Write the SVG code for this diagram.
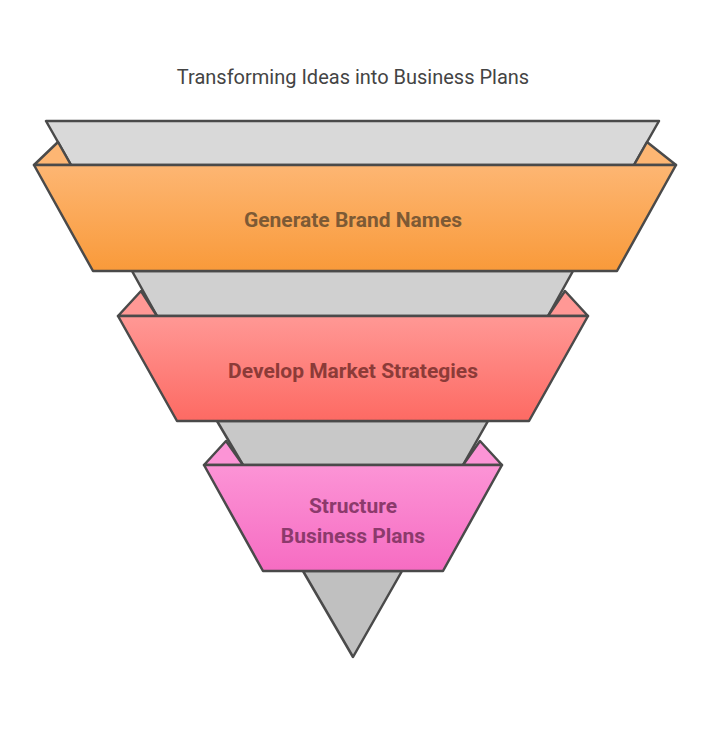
<svg xmlns="http://www.w3.org/2000/svg" width="709" height="738" viewBox="0 0 709 738">
<style>
.s{stroke:#4a4a4a;stroke-width:2.5;stroke-linejoin:round}
.t{font-family:Roboto,"Liberation Sans",sans-serif;font-weight:bold;font-size:21px;text-anchor:middle}
</style>
<defs>
<linearGradient id="go" x1="0" y1="0" x2="0" y2="1"><stop offset="0" stop-color="#fdb673"/><stop offset="1" stop-color="#f99a3a"/></linearGradient>
<linearGradient id="gr" x1="0" y1="0" x2="0" y2="1"><stop offset="0" stop-color="#ff9895"/><stop offset="1" stop-color="#fd6a63"/></linearGradient>
<linearGradient id="gp" x1="0" y1="0" x2="0" y2="1"><stop offset="0" stop-color="#fc94d6"/><stop offset="1" stop-color="#f66cc2"/></linearGradient>
</defs>
<rect width="709" height="738" fill="#fff"/>
<text x="353" y="84" font-family="Roboto,'Liberation Sans',sans-serif" font-size="20" fill="#444" text-anchor="middle">Transforming Ideas into Business Plans</text>
<g id="funnel">
<polygon class="s" fill="#d9d9d9" points="46,121 659,121 634,165 71,165"/>
<polygon class="s" fill="#d0d0d0" points="132,271 573,271 548,316 157,316"/>
<polygon class="s" fill="#c8c8c8" points="217,421 488,421 463,465 243,465"/>
<polygon class="s" fill="#c0c0c0" points="303,571 402,571 353,657"/>
</g>
<g id="band1">
<polygon class="s" fill="#fdb673" points="34,165 58,142 71,165"/>
<polygon class="s" fill="#fdb673" points="676,165 647,142 634,165"/>
<polygon class="s" fill="url(#go)" points="34,165 676,165 617,271 93,271"/>
<text class="t" x="353" y="227" fill="#7d5a35">Generate Brand Names</text>
</g>
<g id="band2">
<polygon class="s" fill="#ff9895" points="118,316 141,291 157,316"/>
<polygon class="s" fill="#ff9895" points="588,316 565,291 548,316"/>
<polygon class="s" fill="url(#gr)" points="118,316 588,316 529,421 177,421"/>
<text class="t" x="353" y="378" fill="#8c3b38">Develop Market Strategies</text>
</g>
<g id="band3">
<polygon class="s" fill="#fc94d6" points="204,465 226,441 243,465"/>
<polygon class="s" fill="#fc94d6" points="502,465 480,441 463,465"/>
<polygon class="s" fill="url(#gp)" points="204,465 502,465 443,571 263,571"/>
<text class="t" x="353" y="513" fill="#8c3a6c">Structure</text>
<text class="t" x="353" y="543" fill="#8c3a6c">Business Plans</text>
</g>
</svg>
